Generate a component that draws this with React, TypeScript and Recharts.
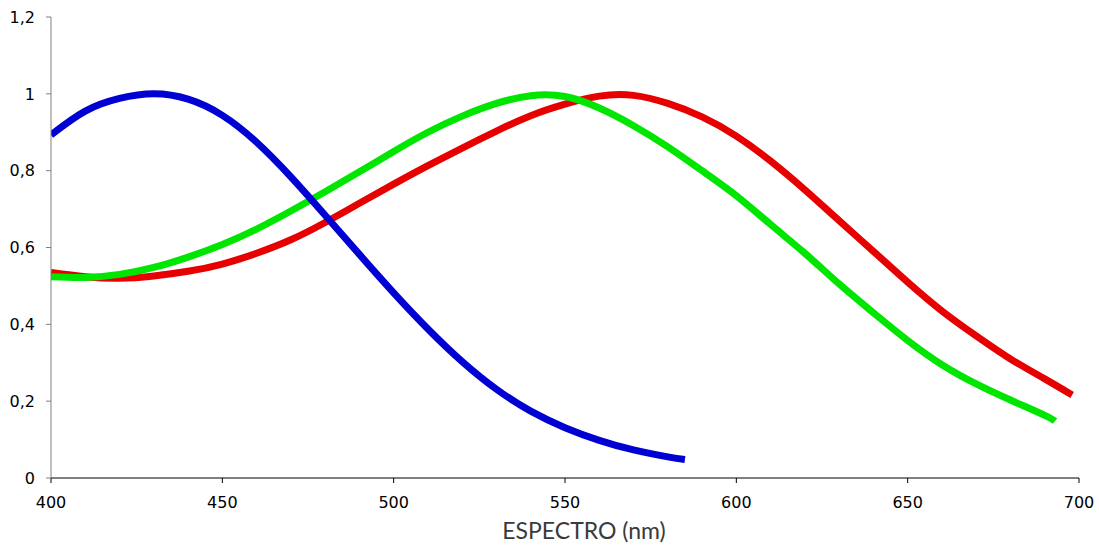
import { LineChart, Line, XAxis, YAxis } from "recharts";

// wavelengths (nm) and relative sensitivity
const blueNm = [400, 410, 420, 430, 440, 450, 460, 470, 480, 490, 500, 510, 520, 530, 540, 550, 560, 570, 580, 585];
const blueVals = [0.893, 0.955, 0.988, 1.0, 0.986, 0.944, 0.874, 0.784, 0.684, 0.582, 0.482, 0.388, 0.303, 0.231, 0.174, 0.131, 0.098, 0.073, 0.055, 0.048];

const greenNm = [400, 410, 420, 430, 440, 450, 460, 470, 480, 490, 500, 510, 520, 530, 540, 550, 560, 570, 580, 590, 600, 610, 620, 630, 640, 650, 660, 670, 680, 690, 693];
const greenVals = [0.524, 0.522, 0.53, 0.548, 0.575, 0.608, 0.648, 0.695, 0.745, 0.797, 0.85, 0.9, 0.942, 0.975, 0.995, 0.993, 0.963, 0.917, 0.862, 0.8, 0.735, 0.66, 0.585, 0.505, 0.43, 0.358, 0.295, 0.245, 0.203, 0.163, 0.148];

const redNm = [400, 410, 420, 430, 440, 450, 460, 470, 480, 490, 500, 510, 520, 530, 540, 550, 560, 570, 580, 590, 600, 610, 620, 630, 640, 650, 660, 670, 680, 690, 698];
const redVals = [0.535, 0.524, 0.52, 0.526, 0.538, 0.557, 0.585, 0.62, 0.665, 0.715, 0.765, 0.813, 0.859, 0.903, 0.943, 0.973, 0.994, 0.996, 0.975, 0.94, 0.89, 0.825, 0.75, 0.67, 0.59, 0.51, 0.435, 0.37, 0.31, 0.258, 0.216];

const xTicks = [400, 450, 500, 550, 600, 650, 700];
const yTicks = [0, 0.2, 0.4, 0.6, 0.8, 1, 1.2];

const zip = (nm: number[], vals: number[]) => nm.map((n, i) => ({ nm: n, v: vals[i] }));

const blueData = zip(blueNm, blueVals);
const greenData = zip(greenNm, greenVals);
const redData = zip(redNm, redVals);

const tickStyle = { fontSize: 16, fill: "#000", fontFamily: "DejaVu Sans, Verdana, sans-serif" };

export default function App() {
  return (
    <div style={{ position: "absolute", top: 0, left: 0, background: "#fff" }}>
      <LineChart width={1099} height={546} margin={{ top: 17, right: 20, left: 0, bottom: 0 }}>
        <XAxis
          type="number"
          dataKey="nm"
          domain={[400, 700]}
          ticks={xTicks}
          allowDataOverflow
          height={68}
          tickSize={5}
          tickMargin={14}
          stroke="#000"
          tick={tickStyle}
          label={{
            value: "ESPECTRO (nm)",
            position: "insideBottom",
            offset: 7,
            dx: 19,
            style: { fontSize: 23, fill: "#3a3a3a", fontFamily: "Lato, sans-serif" },
          }}
        />
        <YAxis
          type="number"
          domain={[0, 1.2]}
          ticks={yTicks}
          width={51}
          tickSize={5}
          tickMargin={11}
          stroke="#808080"
          tick={tickStyle}
          tickFormatter={(v: number) => String(v).replace(".", ",")}
        />
        <Line data={redData} dataKey="v" type="natural" stroke="#e60000" strokeWidth={7} dot={false} isAnimationActive={false} />
        <Line data={greenData} dataKey="v" type="natural" stroke="#00e600" strokeWidth={7} dot={false} isAnimationActive={false} />
        <Line data={blueData} dataKey="v" type="natural" stroke="#0000d2" strokeWidth={7} dot={false} isAnimationActive={false} />
      </LineChart>
    </div>
  );
}
